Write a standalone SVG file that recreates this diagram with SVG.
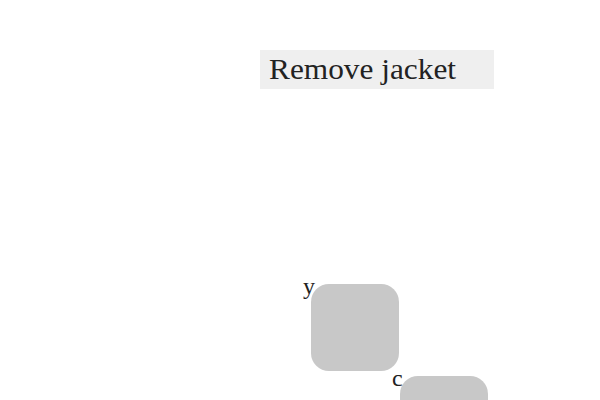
<svg xmlns="http://www.w3.org/2000/svg" width="600" height="400" viewBox="0 0 600 400">
<style>
.t{font-family:"Liberation Serif","DejaVu Serif",serif;fill:#222}
.box{fill:#c8c8c8}
</style>
<rect width="600" height="400" fill="#fff"/>
<g id="title">
<rect x="260" y="50" width="234" height="39" fill="#efefef"/>
<text class="t" x="269" y="79" font-size="29" textLength="187" lengthAdjust="spacingAndGlyphs">Remove jacket</text>
</g>
<g id="node-y">
<rect class="box" x="311" y="284" width="88" height="87" rx="18"/>
<text class="t" x="303" y="294" font-size="24">y</text>
</g>
<g id="node-c">
<rect class="box" x="400" y="376" width="88" height="87" rx="18"/>
<text class="t" x="392" y="386" font-size="24">c</text>
</g>
<g id="connectors"></g>
</svg>
